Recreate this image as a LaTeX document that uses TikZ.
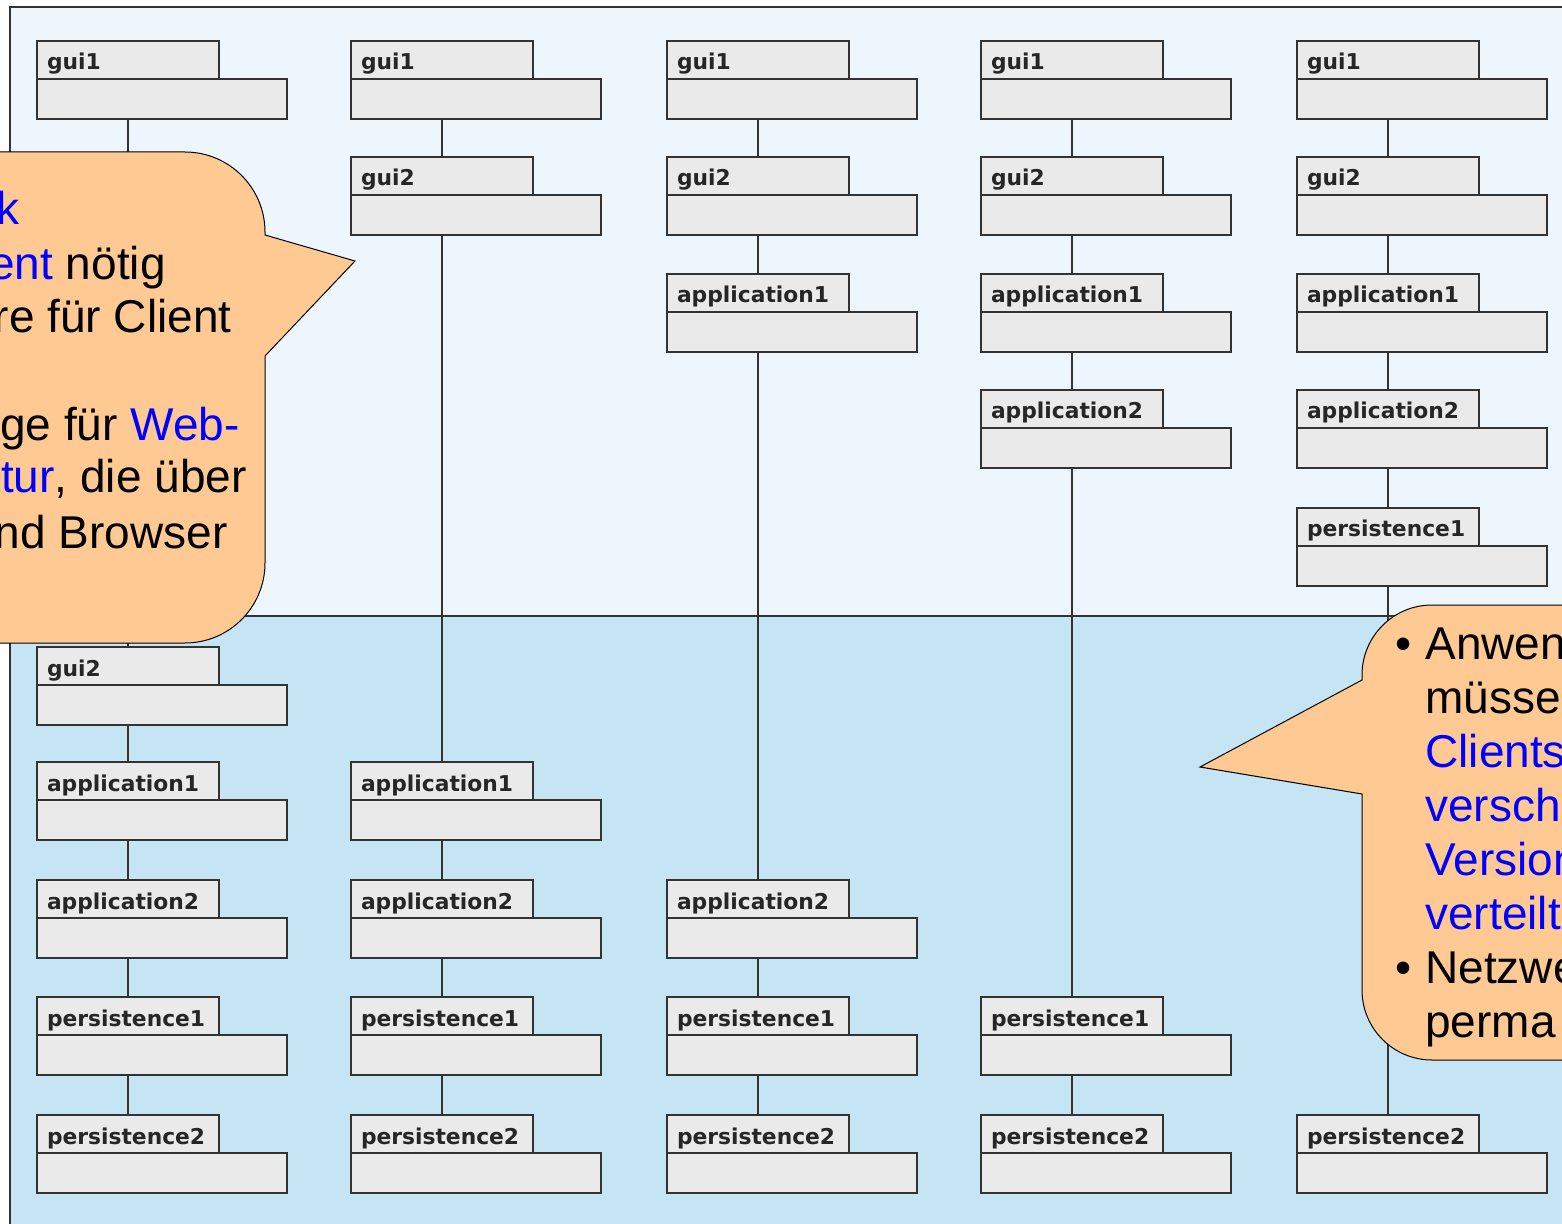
\documentclass[tikz,border=0pt]{standalone}
\usepackage{fontspec}
\setmainfont{Liberation Sans}
\newfontfamily\labelfont{DejaVu Sans}
\usepackage{tikz}
\definecolor{TopBg}{HTML}{EEF6FD}
\definecolor{LowBg}{HTML}{C5E5F5}
\definecolor{BoxGray}{HTML}{EAEAEA}
\definecolor{NoteOrange}{HTML}{FFC993}
\definecolor{NoteBlue}{HTML}{0000FF}
\definecolor{EdgeGray}{HTML}{333333}
\usetikzlibrary{positioning,calc}
\newcommand\layername[1]{\ifcase#1\or gui1\or gui2\or application1\or application2\or persistence1\or persistence2\fi}
\newcommand\hl[1]{\textcolor{NoteBlue}{#1}}

\begin{document}
\begin{tikzpicture}[x=0.5pt,y=-0.5pt,
tab/.style={
	draw=EdgeGray,
	line width=0.9pt,
	fill=BoxGray,
	anchor=north west,
	outer sep=0pt,
	minimum height=19pt,
	text width=81pt,
	inner xsep=5pt,
	inner ysep=0pt,
	text height=11pt,
	text depth=1pt,
	font=\labelfont\bfseries\fontsize{10.9}{12}\selectfont,
	text=black!85
},
body/.style={
	draw=EdgeGray,
	line width=0.9pt,
	fill=BoxGray,
	anchor=north west,
	outer sep=0pt,
	minimum width=125pt,
	minimum height=20pt,
	inner sep=0pt
},
link/.style={draw=EdgeGray, line width=0.8pt},
note/.style={draw=black, line width=0.5pt, fill=NoteOrange},
notetext/.style={inner sep=0pt, font=\fontsize{23}{27}\selectfont},
]
\useasboundingbox (0,0) rectangle (1562,1224);
\clip (0,0) rectangle (1562,1224);

% two tiers
\fill[TopBg] (10,7) rectangle (1600,616);
\fill[LowBg] (10,616) rectangle (1600,1240);
\draw[EdgeGray, line width=1pt] (1600,7) -- (10,7) -- (10,1240);
\draw[EdgeGray, line width=1pt] (10,616) -- (1600,616);

% components, one column per variant
\foreach \c/\x/\ys in {1/37/{41,647,762,880,997,1115},
	2/351/{41,157,762,880,997,1115},
	3/667/{41,157,274,880,997,1115},
	4/981/{41,157,274,390,997,1115},
	5/1297/{41,157,274,390,508,1115}}{
	\foreach \y [count=\k] in \ys {
		\node[tab] (t\c-\k) at (\x,\y) {\layername{\k}};
		\node[body] (b\c-\k) at (t\c-\k.south west) {};
	}
}
\foreach \c in {1,...,5}{
	\foreach \k [evaluate=\k as \j using int(\k+1)] in {1,...,5}
		\draw[link] (t\c-\k.north |- b\c-\k.south) -- (t\c-\j.north);
}

% callouts
\draw[note] (-60,152) -- (185,152) arc[start angle=90, end angle=0, radius=40pt]
	-- (265,235) -- (355,261) -- (265,356)
	-- (265,563) arc[start angle=0, end angle=-90, radius=40pt] -- (-60,643) -- cycle;
\draw[note] (1640,605) -- (1432,605) arc[start angle=90, end angle=180, radius=35pt]
	-- (1362,680) -- (1200,767) -- (1362,794)
	-- (1362,990) arc[start angle=180, end angle=270, radius=35pt] -- (1640,1060) -- cycle;

\foreach \yb/\xe/\txt [count=\i] in {225/20/{\hl{k}}, 280/166/{\hl{ent} nötig},
	333/232/{re für Client}, 441/240/{ge für \hl{Web-}},
	493/247/{\hl{tur}, die über}, 548/228/{nd Browser}}
	\node[notetext, anchor=base east] (lnote\i) at (\xe,\yb) {\txt};

\node[notetext, align=left, anchor=base west] (rnote) at (1425,1037)
	{\llap{\textbullet\hspace{7pt}}Anwen\\ müsse\\ \hl{Clients}\\ \hl{versch}\\
	\hl{Version}\\ \hl{verteilt}\\ \llap{\textbullet\hspace{7pt}}Netzwe\\ perma};
\end{tikzpicture}
\end{document}
